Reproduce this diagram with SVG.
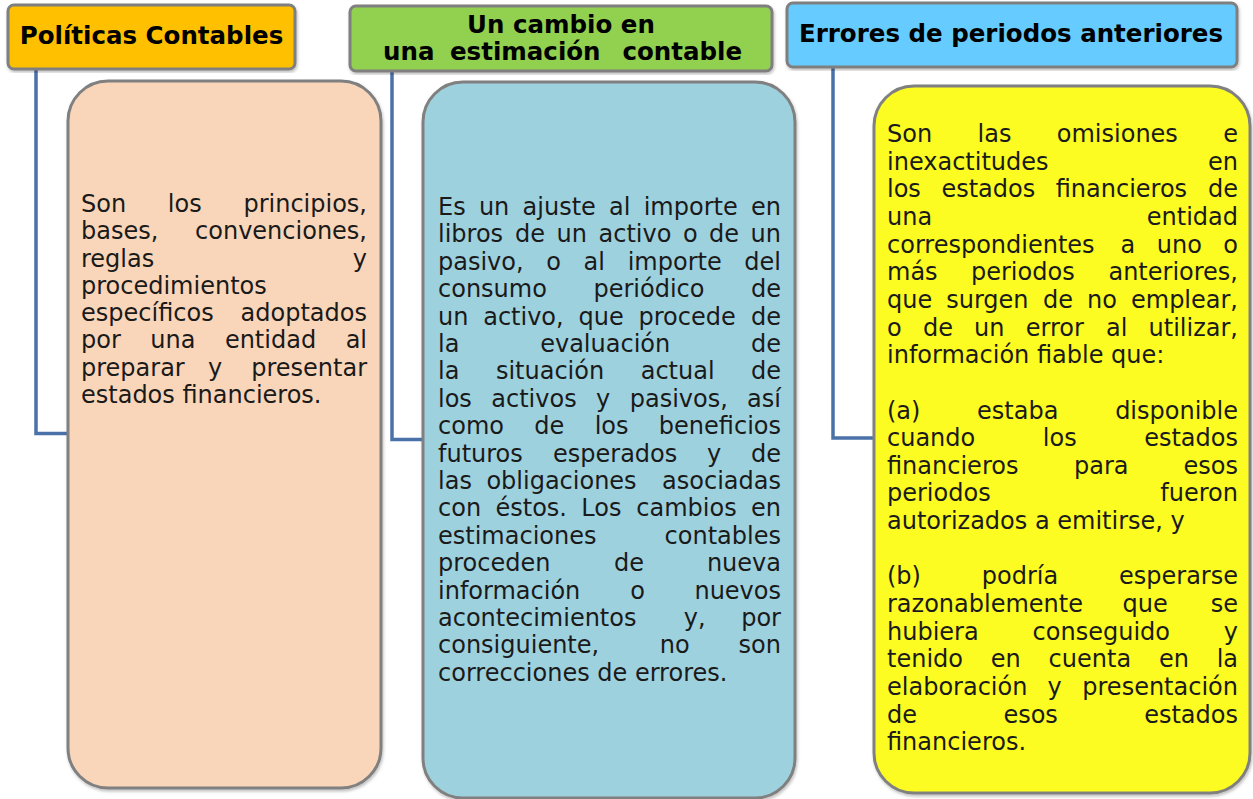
<svg xmlns="http://www.w3.org/2000/svg" width="1253" height="799" viewBox="0 0 1253 799">
<defs>
<style>
.hdr{stroke:#7f7f7f;stroke-width:3}
.box{stroke:#808080;stroke-width:3}
.ht{font-family:"DejaVu Sans",Verdana,sans-serif;font-weight:bold;font-size:24.5px;fill:#000}
.bt{font-family:"DejaVu Sans",Verdana,sans-serif;font-size:24px;fill:#1a1a1a}
.e{text-anchor:end}
.con{fill:none;stroke:#4a72a8;stroke-width:3.5}
</style>
<filter id="sh" x="-5%" y="-5%" width="110%" height="110%">
<feDropShadow dx="1" dy="2" stdDeviation="1.5" flood-color="#000" flood-opacity="0.25"/>
</filter>
</defs>
<rect width="1253" height="799" fill="#fff"/>

<g id="connectors">
<path class="con" d="M36 69 V433.5 H68"/>
<path class="con" d="M392 71 V439.5 H423"/>
<path class="con" d="M833 67 V438 H874"/>
</g>

<g id="h1">
<rect class="hdr" x="8" y="5" width="287" height="64" rx="6" fill="#ffc000" filter="url(#sh)"/>
<text class="ht" x="151.5" y="44" text-anchor="middle">Políticas Contables</text>
</g>

<g id="h2">
<rect class="hdr" x="350" y="6" width="422" height="65" rx="6" fill="#92d050" filter="url(#sh)"/>
<text class="ht" x="561" y="33" text-anchor="middle">Un cambio en</text>
<text class="ht" y="60"><tspan x="383">una</tspan><tspan x="450">estimación</tspan><tspan x="742" class="e">contable</tspan></text>
</g>

<g id="h3">
<rect class="hdr" x="787" y="3" width="450" height="64" rx="6" fill="#66ccff" filter="url(#sh)"/>
<text class="ht" x="1011" y="42" text-anchor="middle">Errores de periodos anteriores</text>
</g>

<g id="b1">
<rect class="box" x="68" y="81" width="313" height="707" rx="40" fill="#f9d6b9" filter="url(#sh)"/>
<g class="bt">
<text y="212"><tspan x="81">Son</tspan><tspan x="167.8">los</tspan><tspan x="367" class="e">principios,</tspan></text>
<text y="239.25"><tspan x="81">bases,</tspan><tspan x="367" class="e">convenciones,</tspan></text>
<text y="266.5"><tspan x="81">reglas</tspan><tspan x="367" class="e">y</tspan></text>
<text y="293.75" x="81">procedimientos</text>
<text y="321"><tspan x="81">específicos</tspan><tspan x="367" class="e">adoptados</tspan></text>
<text y="348.25"><tspan x="81">por</tspan><tspan x="150.3">una</tspan><tspan x="224.9">entidad</tspan><tspan x="367" class="e">al</tspan></text>
<text y="375.5"><tspan x="81">preparar</tspan><tspan x="208">y</tspan><tspan x="367" class="e">presentar</tspan></text>
<text y="402.75" x="81">estados financieros.</text>
</g>
</g>

<g id="b2">
<rect class="box" x="423" y="82" width="372" height="716" rx="40" fill="#9ed1de" filter="url(#sh)"/>
<g class="bt">
<text y="215"><tspan x="438">Es</tspan><tspan x="478.9">un</tspan><tspan x="522.6">ajuste</tspan><tspan x="609.1">al</tspan><tspan x="643.7">importe</tspan><tspan x="781" class="e">en</tspan></text>
<text y="242.4"><tspan x="438">libros</tspan><tspan x="515.1">de</tspan><tspan x="556.6">un</tspan><tspan x="598.5">activo</tspan><tspan x="682.9">o</tspan><tspan x="709.1">de</tspan><tspan x="781" class="e">un</tspan></text>
<text y="269.8"><tspan x="438">pasivo,</tspan><tspan x="546.3">o</tspan><tspan x="583.6">al</tspan><tspan x="627.7">importe</tspan><tspan x="781" class="e">del</tspan></text>
<text y="297.2"><tspan x="438">consumo</tspan><tspan x="593.5">periódico</tspan><tspan x="781" class="e">de</tspan></text>
<text y="324.6"><tspan x="438">un</tspan><tspan x="483.2">activo,</tspan><tspan x="578.5">que</tspan><tspan x="638.5">procede</tspan><tspan x="781" class="e">de</tspan></text>
<text y="352"><tspan x="438">la</tspan><tspan x="540.2">evaluación</tspan><tspan x="781" class="e">de</tspan></text>
<text y="379.4"><tspan x="438">la</tspan><tspan x="495.9">situación</tspan><tspan x="640.7">actual</tspan><tspan x="781" class="e">de</tspan></text>
<text y="406.8"><tspan x="438">los</tspan><tspan x="491.3">activos</tspan><tspan x="596.1">y</tspan><tspan x="629.7">pasivos,</tspan><tspan x="781" class="e">así</tspan></text>
<text y="434.2"><tspan x="438">como</tspan><tspan x="534.3">de</tspan><tspan x="594.7">los</tspan><tspan x="781" class="e">beneficios</tspan></text>
<text y="461.6"><tspan x="438">futuros</tspan><tspan x="553">esperados</tspan><tspan x="707">y</tspan><tspan x="781" class="e">de</tspan></text>
<text y="489"><tspan x="438">las</tspan><tspan x="486.4">obligaciones</tspan><tspan x="781" class="e">asociadas</tspan></text>
<text y="516.4"><tspan x="438">con</tspan><tspan x="495.5">éstos.</tspan><tspan x="581.3">Los</tspan><tspan x="636.3">cambios</tspan><tspan x="781" class="e">en</tspan></text>
<text y="543.8"><tspan x="438">estimaciones</tspan><tspan x="781" class="e">contables</tspan></text>
<text y="571.2"><tspan x="438">proceden</tspan><tspan x="614">de</tspan><tspan x="781" class="e">nueva</tspan></text>
<text y="598.6"><tspan x="438">información</tspan><tspan x="630.2">o</tspan><tspan x="781" class="e">nuevos</tspan></text>
<text y="626"><tspan x="438">acontecimientos</tspan><tspan x="683.8">y,</tspan><tspan x="781" class="e">por</tspan></text>
<text y="653.4"><tspan x="438">consiguiente,</tspan><tspan x="659.8">no</tspan><tspan x="781" class="e">son</tspan></text>
<text y="680.8" x="438">correcciones de errores.</text>
</g>
</g>

<g id="b3">
<rect class="box" x="874" y="86" width="376" height="707" rx="40" fill="#fcfc22" filter="url(#sh)"/>
<g class="bt">
<text y="142"><tspan x="887">Son</tspan><tspan x="977.5">las</tspan><tspan x="1056.8">omisiones</tspan><tspan x="1238" class="e">e</tspan></text>
<text y="169.65"><tspan x="887">inexactitudes</tspan><tspan x="1238" class="e">en</tspan></text>
<text y="197.3"><tspan x="887">los</tspan><tspan x="941.4">estados</tspan><tspan x="1055.7">financieros</tspan><tspan x="1238" class="e">de</tspan></text>
<text y="224.95"><tspan x="887">una</tspan><tspan x="1238" class="e">entidad</tspan></text>
<text y="252.6"><tspan x="887">correspondientes</tspan><tspan x="1120.6">a</tspan><tspan x="1156.8">uno</tspan><tspan x="1238" class="e">o</tspan></text>
<text y="280.25"><tspan x="887">más</tspan><tspan x="971">periodos</tspan><tspan x="1238" class="e">anteriores,</tspan></text>
<text y="307.9"><tspan x="887">que</tspan><tspan x="946.2">surgen</tspan><tspan x="1043">de</tspan><tspan x="1087">no</tspan><tspan x="1238" class="e">emplear,</tspan></text>
<text y="335.55"><tspan x="887">o</tspan><tspan x="922.9">de</tspan><tspan x="974.1">un</tspan><tspan x="1025.7">error</tspan><tspan x="1106">al</tspan><tspan x="1238" class="e">utilizar,</tspan></text>
<text y="363.2" x="887">información fiable que:</text>
<text y="418.5"><tspan x="887">(a)</tspan><tspan x="977.1">estaba</tspan><tspan x="1238" class="e">disponible</tspan></text>
<text y="446.15"><tspan x="887">cuando</tspan><tspan x="1042.8">los</tspan><tspan x="1238" class="e">estados</tspan></text>
<text y="473.8"><tspan x="887">financieros</tspan><tspan x="1074">para</tspan><tspan x="1238" class="e">esos</tspan></text>
<text y="501.45"><tspan x="887">periodos</tspan><tspan x="1238" class="e">fueron</tspan></text>
<text y="529.1" x="887">autorizados a emitirse, y</text>
<text y="584.4"><tspan x="887">(b)</tspan><tspan x="981.8">podría</tspan><tspan x="1238" class="e">esperarse</tspan></text>
<text y="612.05"><tspan x="887">razonablemente</tspan><tspan x="1122.5">que</tspan><tspan x="1238" class="e">se</tspan></text>
<text y="639.7"><tspan x="887">hubiera</tspan><tspan x="1032.6">conseguido</tspan><tspan x="1238" class="e">y</tspan></text>
<text y="667.35"><tspan x="887">tenido</tspan><tspan x="990.8">en</tspan><tspan x="1048.6">cuenta</tspan><tspan x="1158.9">en</tspan><tspan x="1238" class="e">la</tspan></text>
<text y="695"><tspan x="887">elaboración</tspan><tspan x="1047.5">y</tspan><tspan x="1238" class="e">presentación</tspan></text>
<text y="722.65"><tspan x="887">de</tspan><tspan x="1003.4">esos</tspan><tspan x="1238" class="e">estados</tspan></text>
<text y="750.3" x="887">financieros.</text>
</g>
</g>
</svg>
